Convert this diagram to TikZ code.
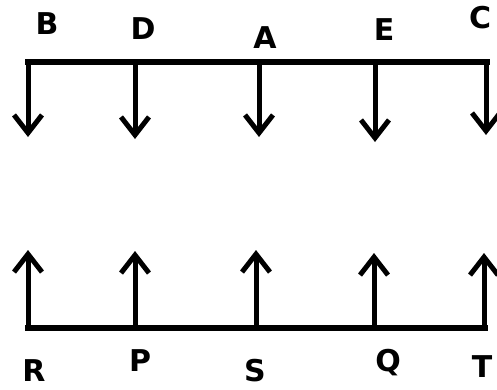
\documentclass[tikz,border=0pt]{standalone}
\usepackage{fontspec}
\setmainfont{DejaVu Sans}
\usetikzlibrary{arrows.meta}
\begin{document}
\begin{tikzpicture}[x=1pt,y=-1pt,
  bar/.style={line width=6.5pt, line cap=rect},
  arr/.style={line width=5pt, -{Straight Barb[length=18pt,width=28pt,line width=5pt]}},
  lbl/.style={font=\fontsize{30}{30}\selectfont\bfseries, inner sep=0pt}]
\useasboundingbox (0,0) rectangle (497,389);
% top
\coordinate (tl) at (28,62); \coordinate (tr) at (487,62);
\coordinate (tB) at (28,62); \coordinate (tD) at (135,62); \coordinate (tA) at (259,62);
\coordinate (tE) at (375,62); \coordinate (tC) at (486,62);
\coordinate (hB) at (28,137); \coordinate (hD) at (135,139); \coordinate (hA) at (259,137);
\coordinate (hE) at (375,142); \coordinate (hC) at (486,135);
\draw[bar] (tl) -- (tr);
\foreach \n in {B,D,A,E,C} \draw[arr] (t\n) -- (h\n);
\node[lbl] (B) at (47,24) {B};
\node[lbl] (D) at (143,29) {D};
\node[lbl] (A) at (265,38) {A};
\node[lbl] (E) at (384,30) {E};
\node[lbl] (C) at (480,18) {C};
% bottom
\coordinate (bl) at (28,328); \coordinate (br) at (485,328);
\coordinate (bR) at (28,328); \coordinate (bP) at (135,328); \coordinate (bS) at (256,328);
\coordinate (bQ) at (374,328); \coordinate (bT) at (484,328);
\coordinate (uR) at (28,250); \coordinate (uP) at (135,251); \coordinate (uS) at (256,250);
\coordinate (uQ) at (374,253); \coordinate (uT) at (484,253);
\draw[bar] (bl) -- (br);
\foreach \n in {R,P,S,Q,T} \draw[arr] (b\n) -- (u\n);
\node[lbl] (R) at (34,371) {R};
\node[lbl] (P) at (140,361) {P};
\node[lbl] (S) at (255,371) {S};
\node[lbl] (Q) at (388,363) {Q};
\node[lbl] (T) at (482,367) {T};
\end{tikzpicture}
\end{document}
